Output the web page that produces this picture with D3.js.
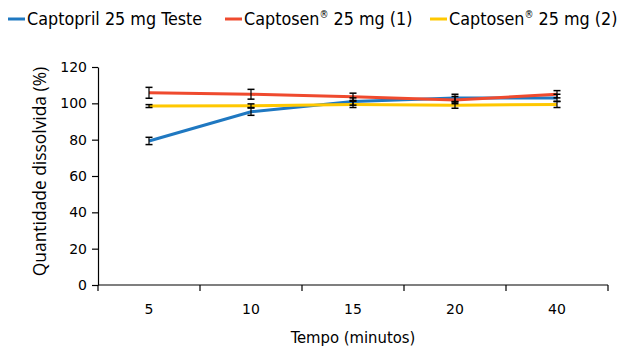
<!DOCTYPE html>
<html>
<head>
<meta charset="utf-8">
<script src="https://cdn.jsdelivr.net/npm/d3@7"></script>
<style>
  body { margin: 0; background: #fff; }
  svg text { font-family: "DejaVu Sans", sans-serif; fill: #000; }
</style>
</head>
<body>
<div id="chart"></div>
<script>
// Dissolution profile: time points and mean % dissolved (with SD)
const times = ['5', '10', '15', '20', '40'];
const seriesNames = ['Captopril 25 mg Teste', 'Captosen® 25 mg (1)', 'Captosen® 25 mg (2)'];
const testeMean = [79.3, 95.4, 101.0, 103.0, 103.0];
const testeSd = [2.0, 2.0, 2.0, 2.0, 2.0];
const ref1Mean = [105.8, 105.0, 103.6, 101.8, 105.0];
const ref1Sd = [3.0, 2.7, 2.0, 2.0, 2.0];
const ref2Mean = [98.5, 98.7, 99.4, 99.0, 99.4];
const ref2Sd = [0.8, 1.0, 1.7, 1.7, 1.7];
const yTicks = [0, 20, 40, 60, 80, 100, 120];

const colors = ['#1f78c1', '#ef4a2e', '#ffc800'];
const series = [
  { name: seriesNames[0], mean: testeMean, sd: testeSd, color: colors[0] },
  { name: seriesNames[1], mean: ref1Mean, sd: ref1Sd, color: colors[1] },
  { name: seriesNames[2], mean: ref2Mean, sd: ref2Sd, color: colors[2] }
];

const width = 617, height = 347;
const margin = { top: 67, right: 9, bottom: 62, left: 98 };

const svg = d3.select('#chart').append('svg')
  .attr('width', width)
  .attr('height', height);

const x = d3.scaleBand()
  .domain(times)
  .range([margin.left, width - margin.right]);

const y = d3.scaleLinear()
  .domain([0, 120])
  .range([height - margin.bottom, margin.top]);

// Y axis
const yAxis = svg.append('g')
  .attr('transform', `translate(${margin.left},0)`)
  .call(d3.axisLeft(y).tickValues(yTicks).tickSize(6).tickSizeOuter(0).tickPadding(5));
yAxis.selectAll('text').style('font-size', '14px');
yAxis.selectAll('path, line').attr('stroke', '#000').attr('stroke-width', 1.2);

// X axis: ticks at category boundaries, labels centered
const xAxisY = y(0);
const xg = svg.append('g');
xg.append('line')
  .attr('x1', margin.left).attr('x2', width - margin.right)
  .attr('y1', xAxisY).attr('y2', xAxisY)
  .attr('stroke', '#000').attr('stroke-width', 1.2);
const bounds = times.map(t => x(t)).concat([x(times[times.length - 1]) + x.bandwidth()]);
xg.selectAll('.xtick')
  .data(bounds)
  .enter().append('line')
  .attr('x1', d => d).attr('x2', d => d)
  .attr('y1', xAxisY).attr('y2', xAxisY + 6)
  .attr('stroke', '#000').attr('stroke-width', 1.2);
xg.selectAll('.xlabel')
  .data(times)
  .enter().append('text')
  .attr('x', d => x(d) + x.bandwidth() / 2)
  .attr('y', xAxisY + 29)
  .attr('text-anchor', 'middle')
  .style('font-size', '14px')
  .text(d => d);

// Axis titles
svg.append('text')
  .attr('x', margin.left + (width - margin.right - margin.left) / 2)
  .attr('y', 343)
  .attr('text-anchor', 'middle')
  .style('font-family', '"DejaVu Sans Condensed", "DejaVu Sans", sans-serif')
  .style('font-size', '16.5px')
  .text('Tempo (minutos)');

svg.append('text')
  .attr('transform', `translate(46,171.5) rotate(-90)`)
  .attr('text-anchor', 'middle')
  .style('font-family', '"Open Sans", sans-serif')
  .style('font-size', '17.4px')
  .text('Quantidade dissolvida (%)');

// Lines
const line = d3.line()
  .x((d, i) => x(times[i]) + x.bandwidth() / 2)
  .y(d => y(d));

series.forEach(s => {
  svg.append('path')
    .datum(s.mean)
    .attr('fill', 'none')
    .attr('stroke', s.color)
    .attr('stroke-width', 3)
    .attr('d', line);
});

// Error bars
series.forEach(s => {
  const g = svg.append('g');
  s.mean.forEach((m, i) => {
    const cx = x(times[i]) + x.bandwidth() / 2;
    const top = y(m + s.sd[i]), bot = y(m - s.sd[i]);
    g.append('line').attr('x1', cx).attr('x2', cx).attr('y1', top).attr('y2', bot)
      .attr('stroke', '#000').attr('stroke-width', 1.2);
    [top, bot].forEach(v => {
      g.append('line').attr('x1', cx - 3.5).attr('x2', cx + 3.5).attr('y1', v).attr('y2', v)
        .attr('stroke', '#000').attr('stroke-width', 1.5);
    });
  });
});

// Legend (® drawn as a small superscript)
const legendX = [8, 225, 430];
const legend = svg.append('g');
series.forEach((s, i) => {
  legend.append('line')
    .attr('x1', legendX[i]).attr('x2', legendX[i] + 17)
    .attr('y1', 19).attr('y2', 19)
    .attr('stroke', s.color).attr('stroke-width', 3);
  const t = legend.append('text')
    .attr('x', legendX[i] + 19)
    .attr('y', 25)
    .style('font-family', '"DejaVu Sans Condensed", "DejaVu Sans", sans-serif')
    .style('font-size', '17.8px');
  const parts = s.name.split('®');
  t.append('tspan').text(parts[0]);
  if (parts.length > 1) {
    t.append('tspan').attr('dy', -7).style('font-size', '10px').text('®');
    t.append('tspan').attr('dy', 7).text(parts[1]);
  }
});
</script>
</body>
</html>
